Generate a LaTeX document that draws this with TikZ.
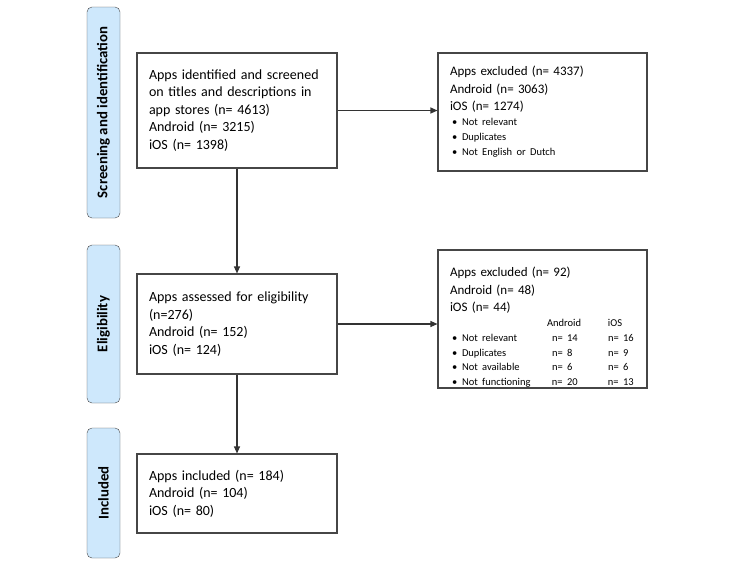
\documentclass[tikz,border=0pt]{standalone}
\usepackage{fontspec}
\setmainfont{Carlito}
\usetikzlibrary{arrows.meta}
\definecolor{stagefill}{RGB}{206,232,252}
\definecolor{boxline}{RGB}{70,70,70}
\newcommand{\bitem}[1]{\makebox[12pt][l]{\hspace{2pt}\textbullet}#1}
\newcommand{\exrow}[3]{\makebox[102pt][l]{\bitem{#1}}\makebox[56pt][l]{#2}#3}
\begin{document}
\begin{tikzpicture}[x=1pt,y=-1pt]
		\tikzstyle{stage} = [draw=boxline, fill=stagefill, rounded corners=5pt, rotate=90, minimum height=33pt, inner sep=0, font=\fontsize{14.8}{16}\selectfont\bfseries]
		\tikzstyle{box} = [draw=boxline, line width=1.1pt, align=left, inner xsep=12pt, inner ysep=0, font=\fontsize{14}{17.5}\selectfont]
		\tikzstyle{exbox} = [box, text width=185pt, font=\fontsize{13}{17.5}\selectfont]
		\tikzstyle{arrow} = [-{Triangle[length=7pt,width=6pt]}, line width=1.1pt, draw=black!80]
		\useasboundingbox (0,0) rectangle (733,563);
		% stages on the left
		\node [stage, minimum width=211pt] (st1) at (103.5,112.5) {Screening and identification};
		\node [stage, minimum width=158pt] (st2) at (103.5,324) {Eligibility};
		\node [stage, minimum width=130pt] (st3) at (103.5,493) {Included};
		% main flow
		\node [box, text width=176pt, minimum height=115pt] (scr) at (237,110.5) {Apps identified and screened\\on titles and descriptions in\\app stores (n= 4613)\\Android (n= 3215)\\iOS (n= 1398)};
		\node [box, text width=176pt, minimum height=100pt] (elig) at (237,324) {Apps assessed for eligibility\\(n=276)\\Android (n= 152)\\iOS (n= 124)};
		\node [box, text width=176pt, minimum height=79pt] (incl) at (237,493.5) {Apps included (n= 184)\\Android (n= 104)\\iOS (n= 80)};
		% excluded
		\node [exbox, minimum height=118pt] (exc1) at (542.5,112) {Apps excluded (n= 4337)\\Android (n= 3063)\\iOS (n= 1274)\\
			{\fontsize{10.5}{15}\selectfont \bitem{Not relevant}\\\bitem{Duplicates}\\\bitem{Not English or Dutch}\par}};
		\node [exbox, minimum height=138pt] (exc2) at (542.5,319) {\rule{0pt}{26pt}Apps excluded (n= 92)\\Android (n= 48)\\iOS (n= 44)\\
			{\fontsize{10.5}{14.8}\selectfont \hspace*{97pt}\makebox[61pt][l]{Android}iOS\\
			\exrow{Not relevant}{n= 14}{n= 16}\\
			\exrow{Duplicates}{n= 8}{n= 9}\\
			\exrow{Not available}{n= 6}{n= 6}\\
			\exrow{Not functioning}{n= 20}{n= 13}\par}};
		\draw [arrow] (scr) -- (elig);
		\draw [arrow] (elig) -- (incl);
		\draw [arrow] (scr.east) -- (scr.east -| exc1.west);
		\draw [arrow] (elig.east) -- (elig.east -| exc2.west);
\end{tikzpicture}
\end{document}
